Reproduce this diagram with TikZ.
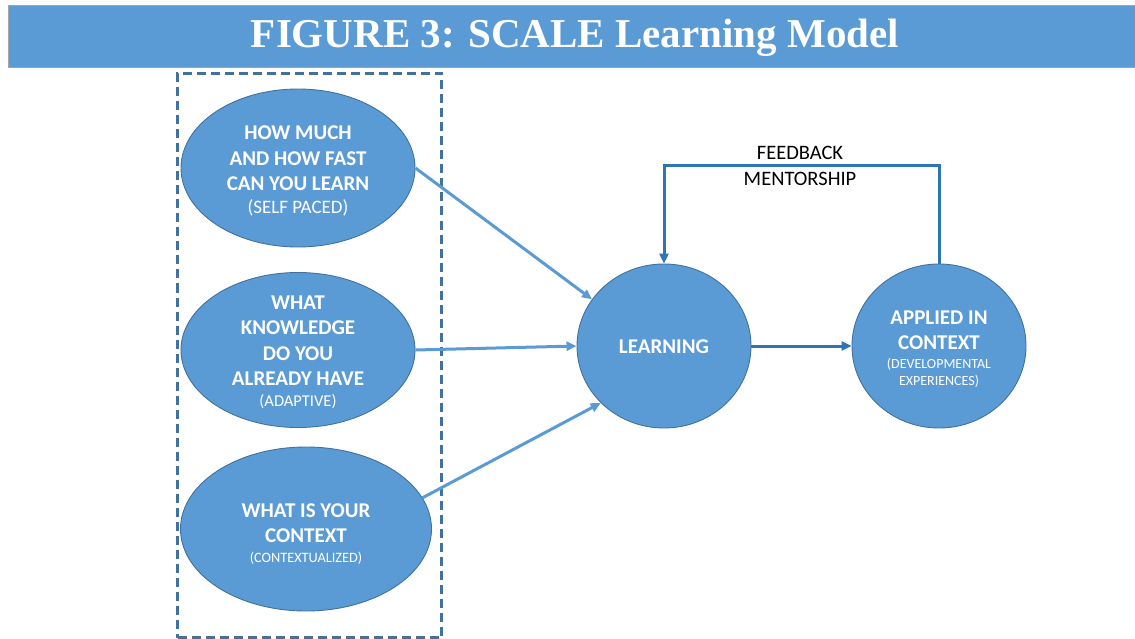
\documentclass[tikz,border=0pt]{standalone}
\usepackage{fontspec}
\setmainfont{Carlito}
\newfontfamily\titlefont{Liberation Serif}
\usetikzlibrary{shapes.geometric,arrows.meta}
\definecolor{fillblue}{HTML}{5B9BD5}
\definecolor{edgeblue}{HTML}{41719C}
\definecolor{darkblue}{HTML}{2E75B6}
\newcommand{\subtxt}[2]{{\mdseries\fontsize{#1}{#1}\selectfont #2}}
\begin{document}
\begin{tikzpicture}[x=1pt,y=-1pt,
  bubble/.style={ellipse,fill=fillblue,draw=edgeblue,line width=0.9pt,inner sep=0pt},
  btext/.style={inner sep=0pt,text=white,align=center,font=\bfseries\fontsize{21}{25.5}\selectfont},
  feed/.style={draw=fillblue,line width=3pt,-{Triangle[length=10pt,width=9pt]}},
  loop/.style={draw=darkblue,line width=3pt,-{Triangle[length=10pt,width=9pt]}},
  note/.style={font=\fontsize{20.5}{26}\selectfont,text=black,inner sep=0pt}]
\useasboundingbox (0,0) rectangle (1135,639);
% title bar
\node[draw=gray!70,line width=0.8pt,fill=fillblue,minimum width=1130pt,minimum height=62pt,
  inner sep=0pt,anchor=north west] (bar) at (8,5) {};
\node[text=white,inner sep=0pt] (title) at (575,38)
  {\titlefont\bfseries\fontsize{41}{41}\selectfont FIGURE 3: SCALE Learning Model};
% input group frame
\node[draw=edgeblue,line width=3pt,dash pattern=on 9pt off 5pt,minimum width=264pt,
  minimum height=564pt,inner sep=0pt,anchor=north west] (frame) at (176,72) {};
% the three inputs
\node[bubble,minimum width=234pt,minimum height=158pt] (pace) at (298,168) {};
\node[btext] (pacetxt) at (298,171)
  {HOW MUCH\\AND HOW FAST\\CAN YOU LEARN\\[-3pt]\subtxt{19}{(SELF PACED)}};
\node[bubble,minimum width=234pt,minimum height=155pt] (know) at (298,350) {};
\node[btext] (knowtxt) at (298,352)
  {WHAT\\KNOWLEDGE\\DO YOU\\ALREADY HAVE\\[-5pt]\subtxt{16.5}{(ADAPTIVE)}};
\node[bubble,minimum width=251pt,minimum height=164pt] (ctx) at (306,529) {};
\node[btext] (ctxtxt) at (306,534)
  {WHAT IS YOUR\\CONTEXT\\[-6pt]\subtxt{14.3}{(CONTEXTUALIZED)}};
% learning and application
\node[bubble,minimum width=174pt,minimum height=164pt] (learn) at (664,346) {};
\node[btext] (learntxt) at (664,347) {LEARNING};
\node[bubble,minimum width=174pt,minimum height=164pt] (apply) at (939,346) {};
\node[btext] (applytxt) at (939,349)
  {APPLIED IN\\CONTEXT\\[-7pt]\subtxt{14}{(DEVELOPMENTAL}\\[-8pt]\subtxt{14}{EXPERIENCES)}};
% connectors
\draw[feed] (pace.east) -- (learn.147);
\draw[feed] (know.east) -- (learn.west);
\draw[feed] (ctx.15) -- (learn.222);
\draw[loop] (learn.east) -- (apply.west);
\coordinate (top) at (800,166);
\draw[loop] (apply.north) |- (top) -| (learn.north);
\node[note] (fbtext) at (800,153) {FEEDBACK};
\node[note] (mentor) at (800,179) {MENTORSHIP};
\end{tikzpicture}
\end{document}
